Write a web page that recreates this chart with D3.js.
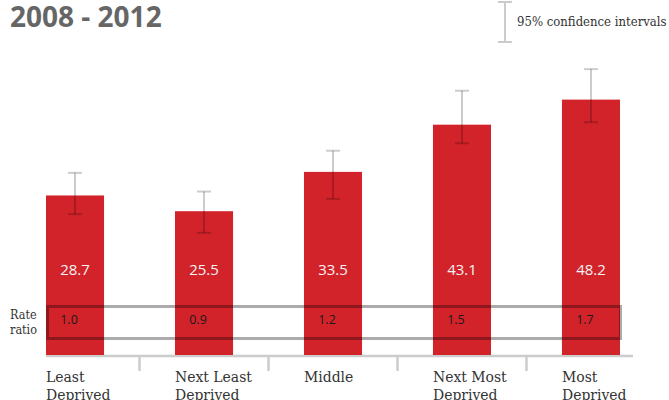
<!DOCTYPE html>
<html><head><meta charset="utf-8">
<script src="https://cdn.jsdelivr.net/npm/d3@7"></script>
<style>
html,body{margin:0;padding:0;background:#fff;}
svg{display:block;}
</style></head>
<body>
<svg id="chart" width="669" height="400"></svg>
<script>
const categories = [["Least", "Deprived"], ["Next Least", "Deprived"], ["Middle"], ["Next Most", "Deprived"], ["Most", "Deprived"]];
const categoryKeys = ["Least Deprived", "Next Least Deprived", "Middle", "Next Most Deprived", "Most Deprived"];
const rates = [28.7, 25.5, 33.5, 43.1, 48.2];
const ciLower = [24.9, 21.1, 28.0, 39.3, 43.6];
const ciUpper = [33.3, 29.5, 37.8, 50.0, 54.4];
const rateRatios = ["1.0", "0.9", "1.2", "1.5", "1.7"];
const title = "2008 - 2012";
const legendLabel = "95% confidence intervals";

const svg = d3.select("#chart");
const serif = "'DejaVu Serif Condensed', 'DejaVu Serif', serif";
const sans = "'Open Sans', sans-serif";
const red = "#d2232a";
const errColor = "rgba(0,0,0,0.2)";

const x = d3.scaleBand().domain(categoryKeys).range([46, 620]).paddingInner(0.55).paddingOuter(0);
const y = d3.scaleLinear().domain([-3.75, 60]).range([355, 41.6]);

// title
svg.append("text").attr("x", 10).attr("y", 27)
  .attr("font-family", sans).attr("font-weight", 700).attr("font-size", 28)
  .attr("fill", "#666").text(title);

// legend
const lg = svg.append("g");
lg.append("line").attr("x1", 505).attr("x2", 505).attr("y1", 2).attr("y2", 42)
  .attr("stroke", "#ccc").attr("stroke-width", 2);
lg.selectAll("line.cap").data([2, 42]).enter().append("line").attr("class", "cap")
  .attr("x1", 498).attr("x2", 512).attr("y1", d => d).attr("y2", d => d)
  .attr("stroke", "#ccc").attr("stroke-width", 2);
lg.append("text").attr("x", 517).attr("y", 26)
  .attr("font-family", serif).attr("font-stretch", "condensed").attr("font-size", 13)
  .attr("fill", "#333").text(legendLabel);

// axis line
svg.append("line").attr("x1", 46).attr("x2", 633).attr("y1", 356).attr("y2", 356)
  .attr("stroke", "#ccc").attr("stroke-width", 2.5);

// ticks between bands
const step = x.step(), gap = step * x.paddingInner();
svg.selectAll("line.tick").data(categoryKeys.slice(1)).enter().append("line").attr("class", "tick")
  .attr("x1", d => x(d) - gap / 2).attr("x2", d => x(d) - gap / 2)
  .attr("y1", 356).attr("y2", 371)
  .attr("stroke", "#ccc").attr("stroke-width", 2.5);

// bars
svg.selectAll("rect.bar").data(rates).enter().append("rect").attr("class", "bar")
  .attr("x", (d, i) => x(categoryKeys[i]))
  .attr("width", x.bandwidth())
  .attr("y", d => y(d))
  .attr("height", d => y(-3.75) - y(d))
  .attr("fill", red);

// value labels
svg.selectAll("text.val").data(rates).enter().append("text").attr("class", "val")
  .attr("x", (d, i) => x(categoryKeys[i]) + x.bandwidth() / 2)
  .attr("y", 275).attr("text-anchor", "middle")
  .attr("font-family", sans).attr("font-size", 15).attr("fill", "#f4f4f4")
  .text(d => d.toFixed(1));

// error bars
const eb = svg.selectAll("g.err").data(rates).enter().append("g").attr("class", "err")
  .attr("transform", (d, i) => `translate(${x(categoryKeys[i]) + x.bandwidth() / 2},0)`);
eb.append("line").attr("x1", 0).attr("x2", 0)
  .attr("y1", (d, i) => y(ciUpper[i])).attr("y2", (d, i) => y(ciLower[i]))
  .attr("stroke", errColor).attr("stroke-width", 2);
eb.append("line").attr("x1", -7).attr("x2", 7)
  .attr("y1", (d, i) => y(ciUpper[i])).attr("y2", (d, i) => y(ciUpper[i]))
  .attr("stroke", errColor).attr("stroke-width", 2);
eb.append("line").attr("x1", -7).attr("x2", 7)
  .attr("y1", (d, i) => y(ciLower[i])).attr("y2", (d, i) => y(ciLower[i]))
  .attr("stroke", errColor).attr("stroke-width", 2);

// rate ratio box
svg.append("rect").attr("x", 47.5).attr("y", 306.5).attr("width", 573).attr("height", 32)
  .attr("fill", "none").attr("stroke", "rgba(0,0,0,0.33)").attr("stroke-width", 3);
svg.selectAll("text.rr").data(rateRatios).enter().append("text").attr("class", "rr")
  .attr("x", (d, i) => x(categoryKeys[i]) + x.bandwidth() / 2 - 6)
  .attr("y", 324).attr("text-anchor", "middle")
  .attr("font-family", sans).attr("font-size", 12.5).attr("fill", "#1a1a1a")
  .text(d => d);
const rl = svg.append("text").attr("font-family", serif).attr("font-stretch", "condensed")
  .attr("font-size", 12.5).attr("fill", "#333");
rl.append("tspan").attr("x", 10).attr("y", 319).text("Rate");
rl.append("tspan").attr("x", 10).attr("y", 334).text("ratio");

// category labels
const cl = svg.selectAll("text.cat").data(categories).enter().append("text").attr("class", "cat")
  .attr("font-family", serif).attr("font-stretch", "condensed")
  .attr("font-size", 15.5).attr("fill", "#333");
cl.selectAll("tspan").data((d, i) => d.map(t => ({t, i}))).enter().append("tspan")
  .attr("x", d => x(categoryKeys[d.i]))
  .attr("y", (d, j) => 382 + j * 18)
  .text(d => d.t);
</script>
</body></html>
